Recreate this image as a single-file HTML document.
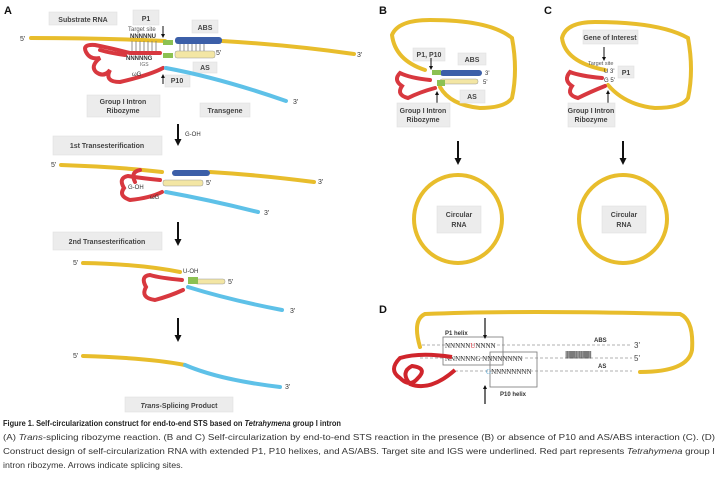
<!DOCTYPE html>
<html><head><meta charset="utf-8"><style>
html,body{margin:0;padding:0;background:#fff;}
svg{display:block;font-family:"Liberation Sans",sans-serif;}
.lb{fill:#ececec;stroke:#e0e0e0;stroke-width:0.6}
.t{font-size:7px;fill:#444;text-anchor:middle;font-weight:bold}
.y{fill:none;stroke:#e8bd2c;stroke-width:4;stroke-linecap:round}
.r{fill:none;stroke:#d8383f;stroke-width:4;stroke-linecap:round}
.b{fill:none;stroke:#5ec1e8;stroke-width:4;stroke-linecap:round}
.ar{stroke:#111;stroke-width:2}
.cap{font-size:8.6px;fill:#333}
</style></head><body>
<svg width="720" height="484" viewBox="0 0 720 484" xmlns="http://www.w3.org/2000/svg">
<defs><marker id="ah" markerUnits="userSpaceOnUse" markerWidth="7" markerHeight="7" refX="5" refY="3.5" orient="auto"><path d="M0,0 L7,3.5 L0,7z" fill="#111"/></marker>
<marker id="as" markerUnits="userSpaceOnUse" markerWidth="4" markerHeight="4" refX="3" refY="2" orient="auto"><path d="M0,0 L4,2 L0,4z" fill="#111"/></marker></defs>
<g font-weight="bold" font-size="11" fill="#111"><text x="4" y="14">A</text><text x="379" y="14">B</text><text x="544" y="14">C</text><text x="379" y="313">D</text></g>

<!-- Panel A row 1 -->
<rect class="lb" x="49" y="12" width="68" height="13"/><text class="t" x="83" y="22">Substrate RNA</text>
<rect class="lb" x="133" y="10" width="26" height="15"/><text class="t" x="146" y="21">P1</text>
<rect class="lb" x="192" y="20" width="26" height="13"/><text class="t" x="205" y="30">ABS</text>
<text x="20" y="41" font-size="7" fill="#333">5'</text>
<path class="y" d="M31,38 Q100,38 165,41"/>
<path class="y" d="M222,41 Q290,45 354,54"/>
<text x="357" y="57" font-size="7" fill="#333">3'</text>
<text x="128" y="31" font-size="6" fill="#555">Target site</text>
<text x="130" y="38" font-size="6" fill="#333" font-weight="bold">NNNNNU</text>
<g stroke="#777" stroke-width="0.8"><path d="M132,41V52M136,41V52M140,41V52M144,41V52M148,41V52M152,41V52M156,41V52"/><path d="M180,44V51M184,44V51M188,44V51M192,44V51M196,44V51M200,44V51M204,44V51"/></g>
<rect x="175" y="37" width="47" height="7" rx="3" fill="#3c5fa8"/>
<rect x="175" y="51" width="40" height="7" rx="2" fill="#f3e6a4" stroke="#999" stroke-width="0.5"/>
<rect x="163" y="40" width="10" height="5" fill="#8cc152"/><rect x="163" y="53" width="10" height="5" fill="#8cc152"/>
<text x="216" y="55" font-size="7" fill="#333">5'</text>
<path class="r" d="M160,53 L130,53 Q110,48 95,45 Q82,44 86,52 Q90,60 100,58 Q90,66 96,72 Q104,78 110,70 Q104,82 120,82 Q150,75 163,68"/>
<path class="r" d="M100,50 Q110,53 125,55"/>
<text x="126" y="60" font-size="6" fill="#333" font-weight="bold">NNNNNG</text>
<text x="140" y="66" font-size="5" fill="#666">IGS</text>
<text x="132" y="76" font-size="6" fill="#333">ωG</text>
<line x1="163" y1="84" x2="163" y2="75" stroke="#111" stroke-width="1" marker-end="url(#as)"/>
<line x1="163" y1="26" x2="163" y2="37" stroke="#111" stroke-width="1" marker-end="url(#as)"/>
<rect class="lb" x="193" y="62" width="24" height="11"/><text class="t" x="205" y="70">AS</text>
<rect class="lb" x="165" y="75" width="25" height="12"/><text class="t" x="177" y="83">P10</text>
<path class="b" d="M166,68 Q220,78 286,101"/>
<text x="293" y="104" font-size="7" fill="#333">3'</text>
<rect class="lb" x="87" y="95" width="73" height="22"/><text class="t" x="123" y="104">Group I Intron</text><text class="t" x="123" y="113">Ribozyme</text>
<rect class="lb" x="200" y="103" width="50" height="14"/><text class="t" x="225" y="113">Transgene</text>
<line class="ar" x1="178" y1="124" x2="178" y2="144" marker-end="url(#ah)"/>
<text x="185" y="136" font-size="6" fill="#333">G-OH</text>
<rect class="lb" x="53" y="136" width="109" height="19"/><text class="t" x="107" y="148" font-size="8">1st Transesterification</text>

<!-- row 2 -->
<text x="51" y="167" font-size="7" fill="#333">5'</text>
<path class="y" d="M61,165 Q120,167 162,172"/>
<path class="y" d="M210,172 Q260,175 314,182"/>
<text x="318" y="184" font-size="7" fill="#333">3'</text>
<rect x="172" y="170" width="38" height="6" rx="3" fill="#3c5fa8"/>
<rect x="163" y="180" width="40" height="6" rx="2" fill="#f3e6a4" stroke="#999" stroke-width="0.5"/>
<text x="206" y="185" font-size="7" fill="#333">5'</text>
<path class="r" d="M160,180 Q140,178 128,176 Q118,178 124,188 Q118,196 130,200 Q150,198 162,192"/>
<path class="r" d="M140,170 Q130,172 135,182"/>
<text x="128" y="189" font-size="6" fill="#333">G-OH</text>
<text x="150" y="199" font-size="6" fill="#333">ωG</text>
<path class="b" d="M166,192 Q210,200 258,212"/>
<text x="264" y="215" font-size="7" fill="#333">3'</text>
<line class="ar" x1="178" y1="222" x2="178" y2="244" marker-end="url(#ah)"/>
<rect class="lb" x="53" y="232" width="109" height="18"/><text class="t" x="107" y="244" font-size="8">2nd Transesterification</text>

<!-- row 3 -->
<text x="73" y="265" font-size="7" fill="#333">5'</text>
<path class="y" d="M83,263 Q140,264 180,272"/>
<rect x="195" y="279" width="30" height="5" rx="2" fill="#f3e6a4" stroke="#999" stroke-width="0.5"/>
<rect x="188" y="277" width="10" height="7" fill="#8cc152"/>
<text x="228" y="284" font-size="7" fill="#333">5'</text>
<text x="183" y="273" font-size="6" fill="#333">U-OH</text>
<path class="r" d="M182,280 Q160,278 150,275 Q140,276 146,287 Q140,298 155,300 Q170,296 183,290"/>
<path class="b" d="M188,287 Q230,300 282,310"/>
<text x="290" y="313" font-size="7" fill="#333">3'</text>
<line class="ar" x1="178" y1="318" x2="178" y2="340" marker-end="url(#ah)"/>

<!-- row 4 -->
<text x="73" y="358" font-size="7" fill="#333">5'</text>
<path class="y" d="M83,356 Q150,358 185,365"/>
<path class="b" d="M185,365 Q220,380 280,387"/>
<text x="285" y="389" font-size="7" fill="#333">3'</text>
<rect class="lb" x="125" y="397" width="108" height="15"/><text class="t" x="179" y="408" font-size="8"><tspan font-style="italic">Trans</tspan>-Splicing Product</text>

<!-- Panel B -->
<path class="y" d="M425,70 Q395,60 392,35 Q398,20 430,20 Q490,20 512,38 Q518,70 512,98 Q505,108 480,108 Q450,105 440,87"/>
<rect class="lb" x="413" y="48" width="32" height="13"/><text class="t" x="429" y="57">P1, P10</text>
<rect class="lb" x="458" y="53" width="28" height="12"/><text class="t" x="472" y="62">ABS</text>
<rect x="440" y="70" width="42" height="6" rx="3" fill="#3c5fa8"/>
<rect x="440" y="79" width="38" height="5" rx="2" fill="#f3e6a4" stroke="#999" stroke-width="0.5"/>
<rect x="432" y="70" width="9" height="5" fill="#8cc152"/><rect x="437" y="80" width="8" height="6" fill="#8cc152"/>
<text x="485" y="75" font-size="6" fill="#333">3'</text><text x="483" y="84" font-size="6" fill="#333">5'</text>
<path class="r" d="M430,80 Q410,78 400,73 Q393,80 402,86 Q396,95 408,98 Q420,92 435,88"/>
<rect class="lb" x="460" y="90" width="25" height="13"/><text class="t" x="472" y="99">AS</text>
<line x1="437" y1="103" x2="437" y2="92" stroke="#111" stroke-width="1" marker-end="url(#as)"/>
<line x1="431" y1="58" x2="431" y2="69" stroke="#111" stroke-width="1" marker-end="url(#as)"/>
<rect class="lb" x="397" y="103" width="53" height="24"/><text class="t" x="423" y="113">Group I Intron</text><text class="t" x="423" y="122">Ribozyme</text>
<line class="ar" x1="458" y1="141" x2="458" y2="163" marker-end="url(#ah)"/>
<circle cx="458" cy="219" r="44" fill="none" stroke="#e8bd2c" stroke-width="4"/>
<rect class="lb" x="437" y="206" width="44" height="27"/><text class="t" x="459" y="217">Circular</text><text class="t" x="459" y="227">RNA</text>

<!-- Panel C -->
<path class="y" d="M605,70 Q565,62 562,38 Q566,22 595,22 Q660,22 688,38 Q694,70 688,98 Q682,108 655,108 Q625,105 608,85"/>
<rect class="lb" x="583" y="30" width="55" height="14"/><text class="t" x="610" y="40">Gene of Interest</text>
<line x1="604" y1="47" x2="604" y2="60" stroke="#111" stroke-width="1" marker-end="url(#as)"/>
<text x="588" y="65" font-size="5.5" fill="#555">Target site</text>
<text x="604" y="73" font-size="6" fill="#333">U 3'</text><text x="604" y="82" font-size="6" fill="#333">G 5'</text>
<rect class="lb" x="618" y="66" width="16" height="12"/><text class="t" x="626" y="75">P1</text>
<path class="r" d="M602,78 Q580,76 570,72 Q563,80 572,86 Q566,95 578,98 Q590,92 605,86"/>
<line x1="608" y1="103" x2="608" y2="91" stroke="#111" stroke-width="1" marker-end="url(#as)"/>
<rect class="lb" x="568" y="103" width="47" height="24"/><text class="t" x="591" y="113">Group I Intron</text><text class="t" x="591" y="122">Ribozyme</text>
<line class="ar" x1="623" y1="141" x2="623" y2="163" marker-end="url(#ah)"/>
<circle cx="623" cy="219" r="44" fill="none" stroke="#e8bd2c" stroke-width="4"/>
<rect class="lb" x="602" y="206" width="44" height="27"/><text class="t" x="624" y="217">Circular</text><text class="t" x="624" y="227">RNA</text>

<!-- Panel D -->
<path class="y" d="M420,347 Q412,320 425,314 Q520,310 680,314 Q694,320 692,350 Q688,372 640,372"/>
<g stroke="#999" stroke-dasharray="3,2" stroke-width="0.8"><line x1="422" y1="345" x2="632" y2="345"/><line x1="420" y1="358" x2="632" y2="358"/><line x1="455" y1="371" x2="632" y2="371"/></g>
<rect x="443" y="337" width="60" height="28" fill="none" stroke="#777" stroke-width="0.8"/>
<rect x="490" y="352" width="47" height="35" fill="none" stroke="#777" stroke-width="0.8"/>
<text x="445" y="335" font-size="6" font-weight="bold" fill="#333">P1 helix</text>
<text x="500" y="396" font-size="6" font-weight="bold" fill="#333">P10 helix</text>
<g font-family="Liberation Serif,serif" font-size="7" fill="#333"><text x="445" y="348">NNNNN<tspan fill="#d9363e">U</tspan>NNNN</text><text x="445" y="361">NNNNNNG NNNNNNNN</text><text x="486" y="374"><tspan fill="#5ea6d0">G</tspan>NNNNNNNN</text></g>
<text x="565" y="357" font-size="8" fill="#333" letter-spacing="-1">||||||||||||||||||||||||</text>
<text x="594" y="342" font-size="6" font-weight="bold" fill="#333">ABS</text>
<text x="598" y="368" font-size="6" font-weight="bold" fill="#333">AS</text>
<text x="634" y="348" font-size="8" fill="#444">3'</text><text x="634" y="361" font-size="8" fill="#444">5'</text>
<path d="M452,357 Q420,352 400,358 Q388,370 400,378 Q410,388 418,378 Q428,368 412,366 Q400,372 410,384 Q430,392 455,370" fill="none" stroke="#d0252c" stroke-width="4"/>
<line x1="485" y1="318" x2="485" y2="338" stroke="#111" stroke-width="1.2" marker-end="url(#as)"/>
<line x1="485" y1="404" x2="485" y2="386" stroke="#111" stroke-width="1.2" marker-end="url(#as)"/>

<!-- caption -->
<text x="3" y="426" font-weight="bold" font-size="8.6" fill="#222" textLength="338" lengthAdjust="spacingAndGlyphs">Figure 1. Self-circularization construct for end-to-end STS based on <tspan font-style="italic">Tetrahymena</tspan> group I intron</text>
<text class="cap" x="3" y="440" textLength="712" lengthAdjust="spacingAndGlyphs">(A) <tspan font-style="italic">Trans</tspan>-splicing ribozyme reaction. (B and C) Self-circularization by end-to-end STS reaction in the presence (B) or absence of P10 and AS/ABS interaction (C). (D)</text>
<text class="cap" x="3" y="454" textLength="712" lengthAdjust="spacingAndGlyphs">Construct design of self-circularization RNA with extended P1, P10 helixes, and AS/ABS. Target site and IGS were underlined. Red part represents <tspan font-style="italic">Tetrahymena</tspan> group I</text>
<text class="cap" x="3" y="468" textLength="180" lengthAdjust="spacingAndGlyphs">intron ribozyme. Arrows indicate splicing sites.</text>
</svg>
</body></html>
